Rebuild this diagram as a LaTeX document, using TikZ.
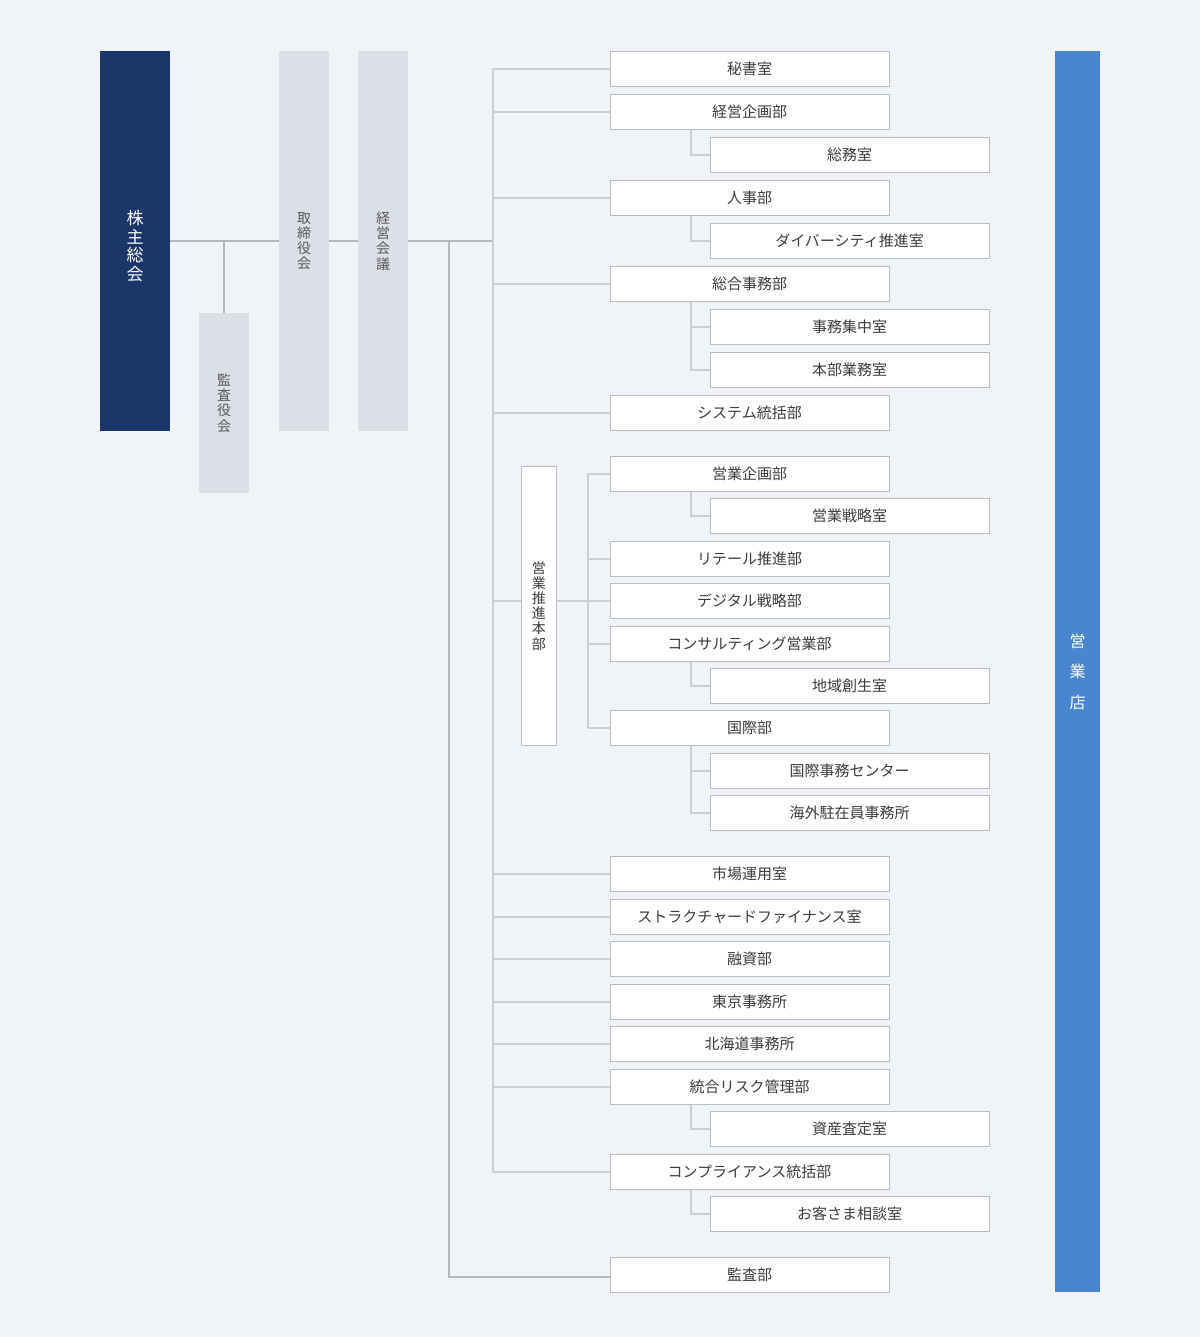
\documentclass[tikz,border=0pt]{standalone}
\usepackage{fontspec}
\setmainfont{Noto Sans CJK JP}
\definecolor{bgc}{HTML}{F0F4F9}
\definecolor{navy}{HTML}{1B3769}
\definecolor{shop}{HTML}{4A86CF}
\definecolor{board}{HTML}{DCDFE6}
\definecolor{edge}{HTML}{BBBDC0}
\definecolor{linkc}{HTML}{B5B8BD}
\definecolor{treec}{HTML}{CACFD5}
\definecolor{txt}{HTML}{3C3C3C}
\tikzset{
  dept/.style={draw=edge,fill=white,line width=0.5pt,inner sep=0pt,
    minimum width=139.5pt,minimum height=17.5pt,text=txt,
    font=\fontsize{7.5}{9}\selectfont},
  sec/.style={dept},
  vbox/.style={inner sep=0pt,align=center,font=\fontsize{7}{7.6}\selectfont},
  board/.style={vbox,fill=board,text=black!65,minimum width=25pt,minimum height=190pt},
  link/.style={draw=linkc,line width=0.6pt},
  tree/.style={draw=treec,line width=1pt}
}
\begin{document}
\begin{tikzpicture}[x=0.5pt,y=-0.5pt]
	\def\mx{749.5}
	\def\sx{849.5}
	\fill[bgc] (0,0) rectangle (1200,1337);
	\coordinate (audx) at (449,0);
	\coordinate (trunk) at (493,0);
	\coordinate (eix) at (588,0);
	\coordinate (subx) at (691,0);
	% top level
	\node[vbox,fill=navy,minimum width=35pt,minimum height=190pt] (kabu) at (135,241) {};
	\node[vbox,text=white,font=\fontsize{8.5}{9.3}\selectfont] (kabutext) at (135,246) {株\\主\\総\\会};
	\node[board,minimum height=90pt] (kansayaku) at (224,403) {監\\査\\役\\会};
	\node[board] (torishimari) at (304,241) {取\\締\\役\\会};
	\node[board] (keiei) at (383,241) {経\\営\\会\\議};
	\node[vbox,fill=shop,text=white,minimum width=22.5pt,minimum height=620.5pt,
		font=\fontsize{8}{15.25}\selectfont] (eigyoten) at (1077.5,671.5) {営\\業\\店};
	\node[vbox,draw=edge,fill=white,line width=0.5pt,text=txt,minimum width=17.5pt,
		minimum height=139.5pt] (suishin) at (538.8,605.8) {営\\業\\推\\進\\本\\部};
	% departments
	\node[dept] (hisho) at (\mx,69) {秘書室};
	\node[dept] (keikaku) at (\mx,112) {経営企画部};
	\node[sec] (somu) at (\sx,155) {総務室};
	\node[dept] (jinji) at (\mx,198) {人事部};
	\node[sec] (diversity) at (\sx,241) {ダイバーシティ推進室};
	\node[dept] (sogo) at (\mx,284) {総合事務部};
	\node[sec] (shuchu) at (\sx,327) {事務集中室};
	\node[sec] (honbu) at (\sx,370) {本部業務室};
	\node[dept] (system) at (\mx,413) {システム統括部};
	\node[dept] (eikikaku) at (\mx,474) {営業企画部};
	\node[sec] (senryaku) at (\sx,516) {営業戦略室};
	\node[dept] (retail) at (\mx,559) {リテール推進部};
	\node[dept] (digital) at (\mx,601) {デジタル戦略部};
	\node[dept] (consul) at (\mx,644) {コンサルティング営業部};
	\node[sec] (chiiki) at (\sx,686) {地域創生室};
	\node[dept] (kokusai) at (\mx,728) {国際部};
	\node[sec] (kjimu) at (\sx,771) {国際事務センター};
	\node[sec] (kaigai) at (\sx,813) {海外駐在員事務所};
	\node[dept] (shijo) at (\mx,874) {市場運用室};
	\node[dept] (structured) at (\mx,917) {ストラクチャードファイナンス室};
	\node[dept] (yushi) at (\mx,959) {融資部};
	\node[dept] (tokyo) at (\mx,1002) {東京事務所};
	\node[dept] (hokkaido) at (\mx,1044) {北海道事務所};
	\node[dept] (risk) at (\mx,1087) {統合リスク管理部};
	\node[sec] (satei) at (\sx,1129) {資産査定室};
	\node[dept] (comp) at (\mx,1172) {コンプライアンス統括部};
	\node[sec] (soudan) at (\sx,1214) {お客さま相談室};
	\node[dept] (kansa) at (\mx,1275) {監査部};
	% connectors
	\draw[link] (kabu.east) -- (torishimari.west);
	\draw[link] (kansayaku.north) -- (kansayaku.north |- kabu.east);
	\draw[link] (torishimari.east) -- (keiei.west);
	\draw[link] (keiei.east) -- (keiei.east -| trunk);
	\draw[link] (keiei.east -| audx) |- ([yshift=-1pt]kansa.west);
	\draw[tree] (hisho.west -| trunk) -- (comp.west -| trunk);
	\foreach \n in {hisho,keikaku,jinji,sogo,system,shijo,structured,yushi,tokyo,hokkaido,risk,comp}
		\draw[tree] (\n.west) -- (\n.west -| trunk);
	\draw[tree] (digital.west -| trunk) -- (digital.west -| suishin.west);
	\draw[tree] (digital.west -| suishin.east) -- (digital.west);
	\draw[tree] (eikikaku.west -| eix) -- (kokusai.west -| eix);
	\foreach \n in {eikikaku,retail,consul,kokusai}
		\draw[tree] (\n.west -| eix) -- (\n.west);
	\foreach \p/\c in {keikaku/somu,jinji/diversity,sogo/honbu,eikikaku/senryaku,consul/chiiki,kokusai/kaigai,risk/satei,comp/soudan}
		\draw[tree] (\p.south -| subx) |- (\c.west);
	\foreach \c in {shuchu,kjimu}
		\draw[tree] (\c.west -| subx) -- (\c.west);
\end{tikzpicture}
\end{document}
